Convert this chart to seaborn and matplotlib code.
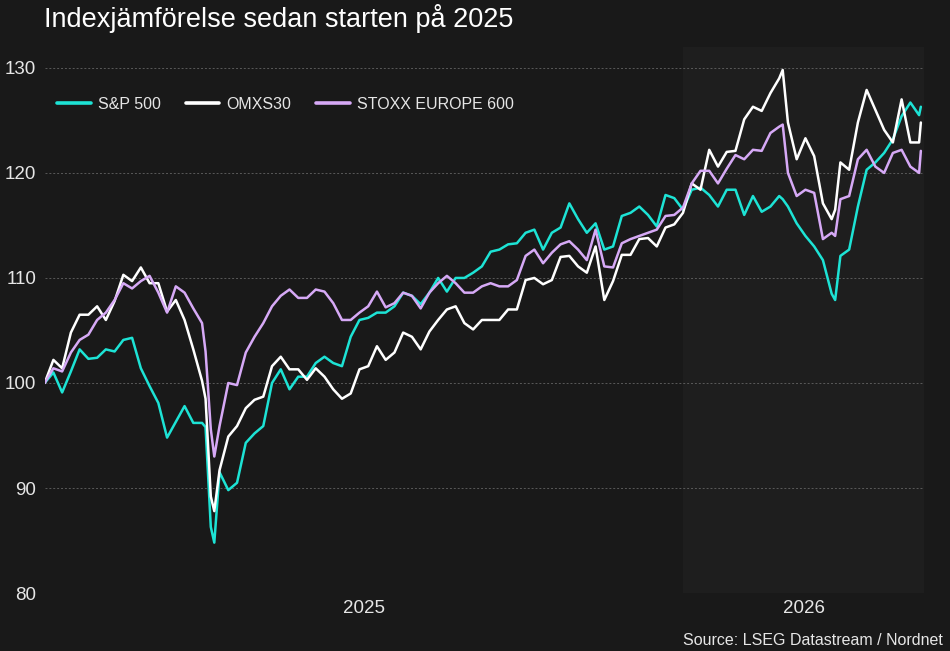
import numpy as np
import pandas as pd
import matplotlib
matplotlib.use("Agg")
import matplotlib.pyplot as plt
import seaborn as sns

# days since 2025-01-01
days = [0, 5, 10, 15, 20, 25, 30, 35, 40, 45, 50, 55, 60, 65, 70, 75, 80, 85, 90, 92,
        95, 97, 100, 105, 110, 115, 120, 125, 130, 135, 140, 145, 150, 155, 160, 165,
        170, 175, 180, 185, 190, 195, 200, 205, 210, 215, 220, 225, 230, 235, 240, 245,
        250, 255, 260, 265, 270, 275, 280, 285, 290, 295, 300, 305, 310, 315, 320, 325,
        330, 335, 340, 345, 350, 355, 360, 365, 370, 375, 380, 385, 390, 395, 400, 405,
        410, 415, 420, 422, 425, 430, 435, 440, 445, 450, 452, 455, 460, 465, 470, 475,
        480, 485, 490, 495, 500, 501]

sp500 = [100.0, 101.0, 99.1, 101.1, 103.2, 102.3, 102.4, 103.2, 103.0, 104.1, 104.3, 101.4,
         99.7, 98.1, 94.8, 96.3, 97.8, 96.2, 96.2, 95.8, 86.3, 84.8, 91.5, 89.8, 90.5, 94.3,
         95.2, 95.9, 100.0, 101.3, 99.4, 100.6, 100.6, 101.9, 102.5, 101.9, 101.6, 104.4,
         106.0, 106.2, 106.7, 106.7, 107.3, 108.6, 108.3, 107.5, 108.6, 110.0, 108.7, 110.0,
         110.0, 110.5, 111.1, 112.5, 112.7, 113.2, 113.3, 114.3, 114.6, 112.7, 114.3, 114.8,
         117.1, 115.6, 114.3, 115.2, 112.7, 113.0, 115.9, 116.2, 116.8, 116.0, 114.9, 117.9,
         117.6, 116.5, 118.4, 118.6, 117.9, 116.8, 118.4, 118.4, 116.0, 117.8, 116.3, 116.8,
         117.8, 117.5, 116.8, 115.2, 114.0, 113.0, 111.7, 108.5, 107.9, 112.1, 112.7, 116.8,
         120.3, 121.0, 121.9, 123.2, 125.4, 126.7, 125.5, 126.3]

omxs30 = [100.0, 102.2, 101.4, 104.8, 106.5, 106.5, 107.3, 106.0, 107.8, 110.3, 109.7, 111.0,
          109.5, 109.5, 106.8, 107.9, 106.0, 103.2, 100.2, 98.5, 89.2, 87.8, 91.7, 94.9, 95.9,
          97.6, 98.4, 98.7, 101.6, 102.5, 101.3, 101.3, 100.3, 101.4, 100.6, 99.4, 98.5, 99.0,
          101.3, 101.6, 103.5, 102.2, 102.9, 104.8, 104.4, 103.2, 104.9, 106.0, 107.0, 107.3,
          105.7, 105.1, 106.0, 106.0, 106.0, 107.0, 107.0, 109.8, 110.0, 109.4, 109.8, 112.0,
          112.1, 111.1, 110.5, 113.0, 107.9, 109.7, 112.2, 112.2, 113.7, 113.8, 113.0, 114.8,
          115.1, 116.2, 119.0, 118.4, 122.2, 120.6, 122.0, 122.1, 125.1, 126.3, 125.9, 127.6,
          129.0, 129.8, 124.8, 121.3, 123.3, 121.6, 117.1, 115.6, 116.5, 121.0, 120.3, 124.8,
          127.9, 126.0, 124.1, 122.9, 127.0, 122.9, 122.9, 124.8]

stoxx600 = [100.0, 101.4, 101.1, 102.9, 104.1, 104.6, 106.0, 106.7, 107.9, 109.5, 109.0, 109.7,
            110.2, 108.6, 106.7, 109.2, 108.6, 107.1, 105.7, 103.0, 95.6, 93.0, 95.9, 100.0,
            99.8, 102.9, 104.4, 105.7, 107.3, 108.3, 108.9, 108.1, 108.1, 108.9, 108.7, 107.6,
            106.0, 106.0, 106.7, 107.3, 108.7, 107.2, 107.6, 108.6, 108.3, 107.1, 108.6, 109.5,
            110.2, 109.5, 108.6, 108.6, 109.2, 109.5, 109.2, 109.2, 109.8, 112.1, 112.7, 111.4,
            112.4, 113.2, 113.5, 112.7, 111.7, 114.6, 111.1, 111.0, 113.3, 113.7, 114.0, 114.3,
            114.6, 115.9, 116.0, 116.7, 119.0, 120.2, 120.2, 119.0, 120.4, 121.7, 121.3, 122.2,
            122.1, 123.8, 124.4, 124.6, 120.0, 117.8, 118.4, 118.1, 113.7, 114.3, 114.0, 117.5,
            117.8, 121.3, 122.2, 120.6, 120.0, 121.9, 122.2, 120.6, 120.0, 122.1]

series_names = ["S&P 500", "OMXS30", "STOXX EUROPE 600"]
colors = ["#1de3d5", "#ffffff", "#d6a9f6"]
year_labels = ["2025", "2026"]

dates = pd.Timestamp("2025-01-01") + pd.to_timedelta(days, unit="D")
df = pd.concat([
    pd.DataFrame({"date": dates, "value": vals, "index": name})
    for name, vals in zip(series_names, [sp500, omxs30, stoxx600])
])

BG = "#191919"
sns.set_style("dark", {"axes.facecolor": BG, "figure.facecolor": BG})
plt.rcParams["font.family"] = ["Liberation Sans", "DejaVu Sans"]

fig = plt.figure(figsize=(9.5, 6.51), dpi=100)
ax = fig.add_axes([0.047, 0.089, 0.926, 0.839])

x0 = pd.Timestamp("2025-01-01")
x_end = x0 + pd.Timedelta(days=503)
y2026 = pd.Timestamp("2026-01-01")
ax.axvspan(y2026, x_end, color="#1e1e1e", zorder=0, lw=0)

sns.lineplot(data=df, x="date", y="value", hue="index",
             palette=dict(zip(series_names, colors)), linewidth=1.8, ax=ax)

ax.set_xlim(x0, x_end)
ax.set_ylim(80, 132)
ax.set_yticks([80, 90, 100, 110, 120, 130])
ax.yaxis.grid(True, color="#5a5a5a", linestyle=(0, (2, 2)), linewidth=0.7)
ax.xaxis.grid(False)
ax.set_axisbelow(True)

mid_2025 = x0 + (y2026 - x0) / 2
mid_2026 = y2026 + (x_end - y2026) / 2
ax.set_xticks([mid_2025, mid_2026])
ax.set_xticklabels(year_labels)
ax.tick_params(axis="both", length=0, colors="#e6e6e6", labelsize=13.5)
ax.tick_params(axis="x", pad=5)
ax.tick_params(axis="y", pad=6)
ax.set_xlabel("")
ax.set_ylabel("")
for s in ax.spines.values():
    s.set_visible(False)

leg = ax.legend(loc="upper left", bbox_to_anchor=(-0.002, 0.935), ncol=3, frameon=False,
                fontsize=11.5, handlelength=2.1, columnspacing=1.55, handletextpad=0.45)
for t in leg.get_texts():
    t.set_color("#e6e6e6")
for h in leg.get_lines():
    h.set_linewidth(2.6)

fig.text(0.046, 0.994, "Indexjämförelse sedan starten på 2025", color="white",
         fontsize=19.5, va="top", ha="left")
fig.text(0.992, 0.004, "Source: LSEG Datastream / Nordnet", color="#e6e6e6",
         fontsize=11.5, va="bottom", ha="right")

fig.savefig("out.png", dpi=100, facecolor=BG)
